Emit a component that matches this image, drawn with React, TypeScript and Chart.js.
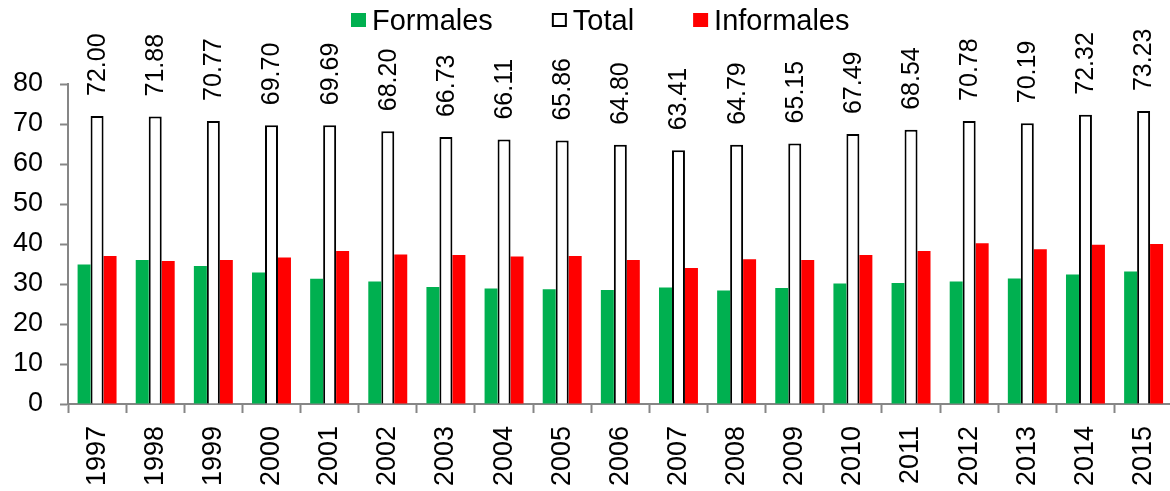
import React, { useEffect, useRef } from 'react';
import { Chart, registerables } from 'chart.js';

Chart.register(...registerables);

const years = ['1997', '1998', '1999', '2000', '2001', '2002', '2003', '2004', '2005', '2006', '2007', '2008', '2009', '2010', '2011', '2012', '2013', '2014', '2015'];
const formales = [34.9, 36.0, 34.5, 32.9, 31.3, 30.6, 29.25, 28.9, 28.7, 28.5, 29.1, 28.4, 29.0, 30.1, 30.25, 30.6, 31.4, 32.4, 33.1];
const total = [72.0, 71.88, 70.77, 69.7, 69.69, 68.2, 66.73, 66.11, 65.86, 64.8, 63.41, 64.79, 65.15, 67.49, 68.54, 70.78, 70.19, 72.32, 73.23];
const informales = [37.0, 35.75, 36.0, 36.6, 38.25, 37.4, 37.25, 36.9, 37.0, 36.0, 34.0, 36.2, 36.0, 37.25, 38.25, 40.2, 38.7, 39.8, 40.0];
const seriesNames = ['Formales', 'Total', 'Informales'];

const FONT = "'Liberation Sans', Arial, Helvetica, sans-serif";
const AXIS_GRAY = '#868686';

// Legend row across the top: filled square swatches followed by the series name.
const topLegend = {
  id: 'topLegend',
  afterDraw(chart: any) {
    const ctx = chart.ctx;
    ctx.save();
    ctx.font = `29px ${FONT}`;
    ctx.textBaseline = 'alphabetic';
    ctx.textAlign = 'left';
    let x = 351;
    chart.data.datasets.forEach((ds: any) => {
      ctx.fillStyle = ds.backgroundColor;
      ctx.fillRect(x, 13, 15, 14);
      if (ds.borderWidth) {
        ctx.strokeStyle = ds.borderColor;
        ctx.lineWidth = 2;
        ctx.strokeRect(x + 1, 14, 13, 12);
      }
      ctx.fillStyle = '#000';
      ctx.fillText(ds.label, x + 21, 30);
      x += 21 + ctx.measureText(ds.label).width + 59;
    });
    ctx.restore();
  },
};

// Vertical value labels above the Total bars.
const totalLabels = {
  id: 'totalLabels',
  afterDatasetsDraw(chart: any) {
    const meta = chart.getDatasetMeta(1);
    const ctx = chart.ctx;
    ctx.save();
    ctx.font = `25px ${FONT}`;
    ctx.fillStyle = '#000';
    ctx.textAlign = 'left';
    ctx.textBaseline = 'middle';
    meta.data.forEach((bar: any, i: number) => {
      ctx.save();
      ctx.translate(bar.x + 1, bar.y - 20);
      ctx.rotate(-Math.PI / 2);
      ctx.fillText(total[i].toFixed(2), 0, 0);
      ctx.restore();
    });
    ctx.restore();
  },
};

export default function App() {
  const canvasRef = useRef<HTMLCanvasElement | null>(null);

  useEffect(() => {
    if (!canvasRef.current) return;
    const chart = new Chart(canvasRef.current, {
      type: 'bar',
      data: {
        labels: years,
        datasets: [
          {
            label: seriesNames[0],
            data: formales,
            backgroundColor: '#00B050',
            borderWidth: 0,
          },
          {
            label: seriesNames[1],
            data: total,
            backgroundColor: '#FFFFFF',
            borderColor: '#000000',
            borderWidth: 2,
          },
          {
            label: seriesNames[2],
            data: informales,
            backgroundColor: '#FF0000',
            borderWidth: 0,
          },
        ],
      },
      options: {
        animation: false,
        responsive: true,
        maintainAspectRatio: false,
        layout: { padding: { left: 12, top: 84, right: 0, bottom: 0 } },
        datasets: {
          bar: { categoryPercentage: 0.67, barPercentage: 1.0 },
        },
        plugins: {
          legend: { display: false },
          tooltip: { enabled: false },
          title: { display: false },
        },
        scales: {
          x: {
            grid: {
              display: true,
              drawOnChartArea: false,
              drawTicks: true,
              tickLength: 9,
              tickWidth: 2,
              color: AXIS_GRAY,
              offset: true,
            },
            border: { display: true, color: AXIS_GRAY, width: 2 },
            ticks: {
              font: { family: FONT, size: 27 },
              color: '#000',
              minRotation: 90,
              maxRotation: 90,
              autoSkip: false,
              padding: 13,
            },
            afterFit(scale: any) {
              scale.height = 87;
            },
          },
          y: {
            min: 0,
            max: 80,
            ticks: {
              stepSize: 10,
              font: { family: FONT, size: 27 },
              color: '#000',
              padding: 17,
            },
            grid: {
              drawOnChartArea: false,
              drawTicks: true,
              tickLength: 8,
              tickWidth: 2,
              color: AXIS_GRAY,
            },
            border: { display: true, color: AXIS_GRAY, width: 2 },
            afterFit(scale: any) {
              scale.width = 56;
            },
          },
        },
      },
      plugins: [topLegend, totalLabels],
    });
    return () => chart.destroy();
  }, []);

  return (
    <div
      style={{
        position: 'fixed',
        left: 0,
        top: 0,
        width: 1170,
        height: 491,
        overflow: 'hidden',
        background: '#fff',
      }}
    >
      <div style={{ position: 'relative', width: 1189, height: 491 }}>
        <canvas ref={canvasRef} />
      </div>
    </div>
  );
}
